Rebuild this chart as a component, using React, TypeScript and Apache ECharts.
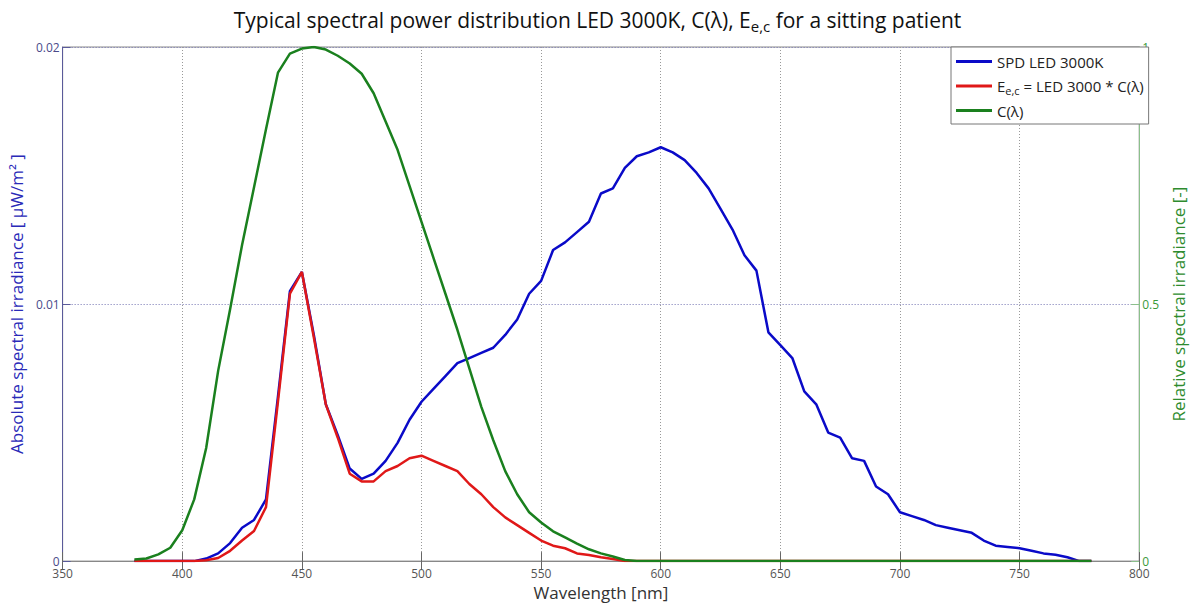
import React, { useEffect, useRef } from "react";
import * as echarts from "echarts";

const wavelengths: number[] = [
  380, 385, 390, 395, 400, 405, 410, 415, 420, 425, 430, 435, 440, 445, 450, 455, 460, 465, 470, 475,
  480, 485, 490, 495, 500, 505, 510, 515, 520, 525, 530, 535, 540, 545, 550, 555, 560, 565, 570, 575,
  580, 585, 590, 595, 600, 605, 610, 615, 620, 625, 630, 635, 640, 645, 650, 655, 660, 665, 670, 675,
  680, 685, 690, 695, 700, 705, 710, 715, 720, 725, 730, 735, 740, 745, 750, 755, 760, 765, 770, 775, 780,
];

const spdLed: number[] = [
  0, 0, 0, 0, 0, 0, 0.0001, 0.0003, 0.0007, 0.0013, 0.0016, 0.0024, 0.0064, 0.0105, 0.01125, 0.0088, 0.0061, 0.0049, 0.0036, 0.0032,
  0.0034, 0.0039, 0.0046, 0.0055, 0.0062, 0.0067, 0.0072, 0.0077, 0.0079, 0.0081, 0.0083, 0.0088, 0.0094, 0.0104, 0.0109, 0.0121, 0.0124, 0.0128, 0.0132, 0.0143,
  0.0145, 0.0153, 0.01575, 0.0159, 0.0161, 0.0159, 0.0156, 0.0151, 0.0145, 0.0137, 0.0129, 0.0119, 0.0113, 0.0089, 0.0084, 0.0079, 0.0066, 0.0061, 0.005, 0.0048,
  0.004, 0.0039, 0.0029, 0.0026, 0.0019, 0.00175, 0.0016, 0.0014, 0.0013, 0.0012, 0.0011, 0.0008, 0.0006, 0.00055, 0.0005, 0.0004, 0.0003, 0.00025, 0.00015, 0, 0,
];

const eec: number[] = [
  0, 0, 0, 0, 0, 0, 0.00003, 0.00012, 0.0004, 0.0008, 0.00117, 0.0021, 0.0062, 0.0104, 0.01125, 0.0087, 0.0061, 0.0048, 0.0034, 0.0031,
  0.0031, 0.0035, 0.0037, 0.004, 0.0041, 0.0039, 0.0037, 0.0035, 0.003, 0.0026, 0.0021, 0.0017, 0.0014, 0.0011, 0.0008, 0.0006, 0.0005, 0.0003, 0.00024, 0.00015,
  0.00008, 0, 0, 0, 0, 0, 0, 0, 0, 0, 0, 0, 0, 0, 0, 0, 0, 0, 0, 0,
  0, 0, 0, 0, 0, 0, 0, 0, 0, 0, 0, 0, 0, 0, 0, 0, 0, 0, 0, 0, 0,
];

const cLambda: number[] = [
  0.003, 0.005, 0.013, 0.026, 0.06, 0.12, 0.22, 0.37, 0.49, 0.615, 0.727, 0.84, 0.95, 0.987, 0.997, 1.0, 0.995, 0.983, 0.968, 0.948,
  0.91, 0.855, 0.8, 0.73, 0.66, 0.59, 0.52, 0.45, 0.375, 0.3, 0.235, 0.175, 0.13, 0.095, 0.075, 0.058, 0.046, 0.034, 0.023, 0.015,
  0.009, 0.002, 0, 0, 0, 0, 0, 0, 0, 0, 0, 0, 0, 0, 0, 0, 0, 0, 0, 0,
  0, 0, 0, 0, 0, 0, 0, 0, 0, 0, 0, 0, 0, 0, 0, 0, 0, 0, 0, 0, 0,
];

const seriesNames = ["SPD LED 3000K", "Eec", "C(λ)"];
const legendLabels: Record<string, string> = {
  "SPD LED 3000K": "SPD LED 3000K",
  Eec: "E{sub|e,c} = LED 3000 * C(λ)",
  "C(λ)": "C(λ)",
};

const FONT = "Open Sans";

export default function App() {
  const ref = useRef<HTMLDivElement>(null);

  useEffect(() => {
    document.body.style.margin = "0";
    if (!ref.current) return;
    const chart = echarts.init(ref.current, undefined, { renderer: "svg" });
    const pairs = (vals: number[]) => wavelengths.map((w, i) => [w, vals[i]]);

    const xCommon = {
      type: "value" as const,
      min: 350,
      max: 800,
      interval: 50,
    };

    chart.setOption({
      animation: false,
      backgroundColor: "#ffffff",
      textStyle: { fontFamily: FONT },
      title: {
        text: "Typical spectral power distribution LED 3000K, C(λ), E{sub|e,c} for a sitting patient",
        left: "center",
        top: 2,
        textStyle: {
          fontFamily: FONT,
          fontSize: 21,
          fontWeight: "normal",
          color: "#111",
          lineHeight: 26,
          rich: {
            sub: { fontSize: 15, fontFamily: FONT, color: "#111", padding: [11, 0, 0, 0], lineHeight: 18 },
          },
        },
      },
      legend: {
        data: seriesNames,
        orient: "vertical",
        left: 951,
        top: 47,
        backgroundColor: "#ffffff",
        borderColor: "#777777",
        borderWidth: 1,
        borderRadius: 0,
        padding: [5, 5, 4, 5],
        itemGap: 5,
        itemWidth: 36,
        itemHeight: 3,
        icon: "rect",
        formatter: (name: string) => legendLabels[name] ?? name,
        textStyle: {
          fontFamily: FONT,
          fontSize: 15,
          color: "#222",
          lineHeight: 19,
          padding: [0, 0, 0, 0],
          rich: {
            sub: { fontSize: 11, fontFamily: FONT, color: "#222", padding: [9, 0, 0, 0], lineHeight: 13 },
          },
        },
      },
      grid: {
        left: 62,
        right: 47,
        top: 47,
        bottom: 43,
        containLabel: false,
        show: true,
        borderColor: "#888",
        borderWidth: 1,
      },
      xAxis: [
        {
          ...xCommon,
          position: "bottom",
          name: "Wavelength [nm]",
          nameLocation: "middle",
          nameGap: 19,
          nameTextStyle: { fontFamily: FONT, fontSize: 17, color: "#333" },
          axisLine: { show: true, lineStyle: { color: "#555", width: 1 } },
          axisTick: { show: true, inside: true, length: 9, lineStyle: { color: "#666" } },
          axisLabel: { fontFamily: FONT, fontSize: 12, lineHeight: 12, color: "#555", margin: 6 },
          splitLine: { show: true, lineStyle: { color: "#999", type: [1, 2], width: 1 } },
        },
        {
          ...xCommon,
          position: "top",
          axisLine: { show: true, lineStyle: { color: "#888", width: 1 } },
          axisTick: { show: true, inside: true, length: 9, lineStyle: { color: "#666" } },
          axisLabel: { show: false },
          splitLine: { show: false },
        },
      ],
      yAxis: [
        {
          type: "value",
          min: 0,
          max: 0.02,
          interval: 0.01,
          position: "left",
          name: "Absolute spectral irradiance [ μW/m² ]",
          nameLocation: "middle",
          nameGap: 34,
          nameRotate: 90,
          nameTextStyle: { fontFamily: FONT, fontSize: 17, color: "#2a2ab8" },
          axisLine: { show: true, lineStyle: { color: "#5a5a9a", width: 1 } },
          axisTick: { show: true, inside: true, length: 8, lineStyle: { color: "#5a5a9a" } },
          axisLabel: { fontFamily: FONT, fontSize: 12, lineHeight: 12, color: "#4a4a8a", margin: 3 },
          splitLine: { show: true, lineStyle: { color: "#7272b0", type: [1, 2], width: 1 } },
        },
        {
          type: "value",
          min: 0,
          max: 1,
          interval: 0.5,
          position: "right",
          name: "Relative spectral irradiance [-]",
          nameLocation: "middle",
          nameGap: 24,
          nameRotate: 90,
          nameTextStyle: { fontFamily: FONT, fontSize: 17, color: "#2e8b2e" },
          axisLine: { show: true, lineStyle: { color: "#8cc08c", width: 1 } },
          axisTick: { show: true, inside: true, length: 8, lineStyle: { color: "#8cc08c" } },
          axisLabel: { fontFamily: FONT, fontSize: 12, lineHeight: 12, color: "#3a9a3a", margin: 3 },
          splitLine: { show: false },
        },
      ],
      series: [
        {
          name: seriesNames[0],
          type: "line",
          xAxisIndex: 0,
          yAxisIndex: 0,
          data: pairs(spdLed),
          symbol: "none",
          lineStyle: { color: "#0a0ac8", width: 2.5 },
          itemStyle: { color: "#0a0ac8" },
        },
        {
          name: seriesNames[1],
          type: "line",
          xAxisIndex: 0,
          yAxisIndex: 0,
          data: pairs(eec),
          symbol: "none",
          lineStyle: { color: "#e01818", width: 2.5 },
          itemStyle: { color: "#e01818" },
        },
        {
          name: seriesNames[2],
          type: "line",
          xAxisIndex: 0,
          yAxisIndex: 1,
          data: pairs(cLambda),
          symbol: "none",
          lineStyle: { color: "#1a801e", width: 2.5 },
          itemStyle: { color: "#1a801e" },
        },
      ],
    });

    return () => chart.dispose();
  }, []);

  return <div ref={ref} style={{ width: 1195, height: 606 }} />;
}
